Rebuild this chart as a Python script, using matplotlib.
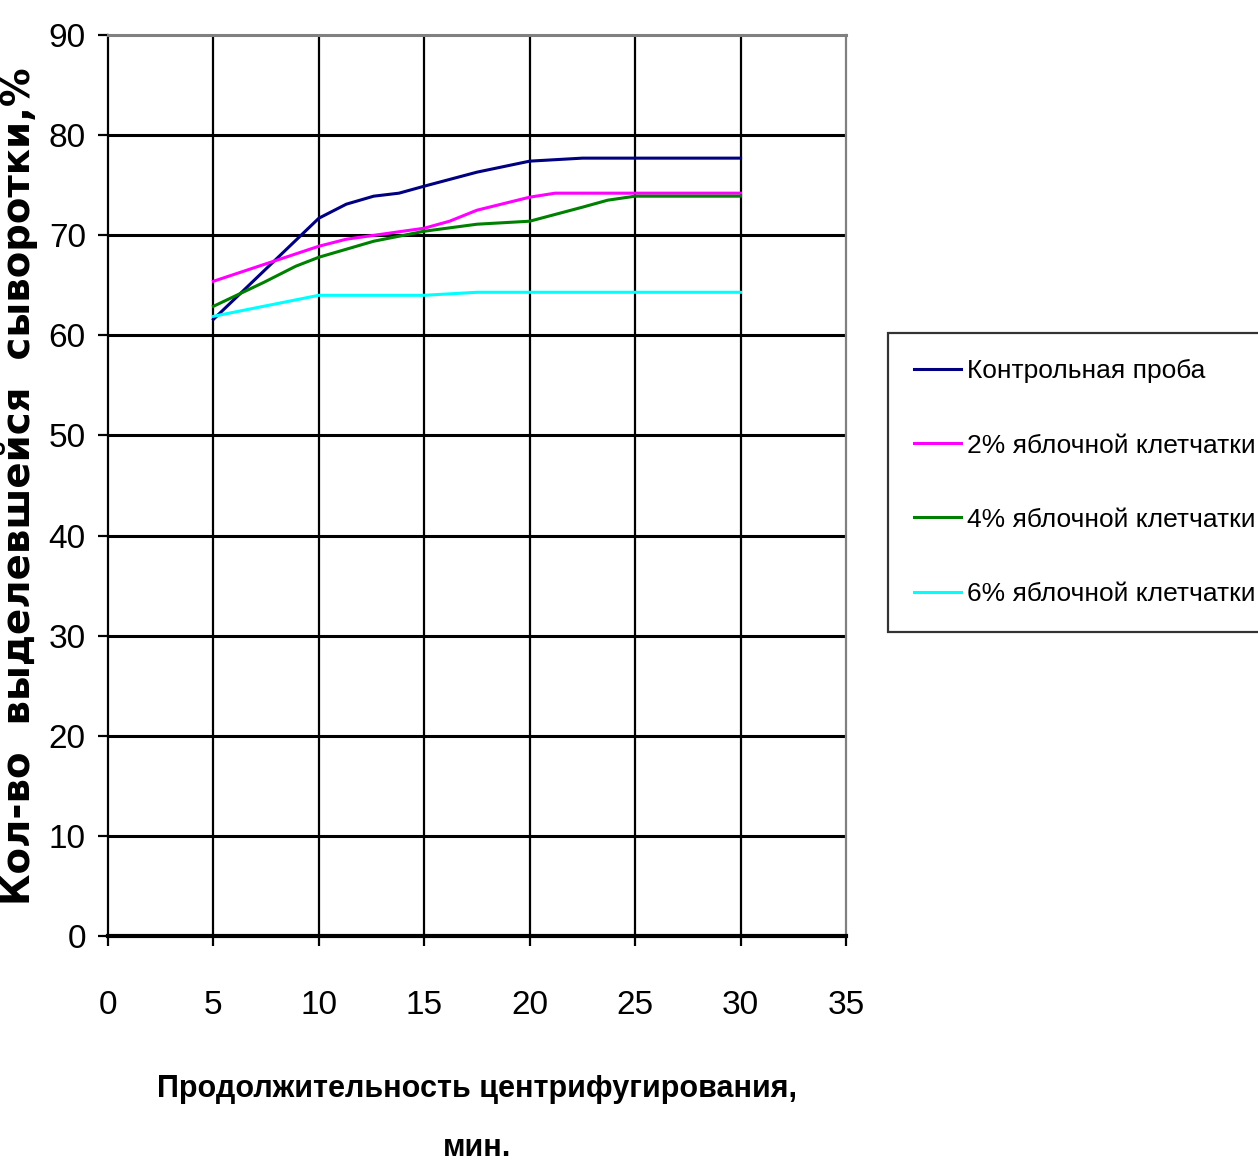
import matplotlib
matplotlib.use("Agg")
import matplotlib.pyplot as plt

# data (smoothed excel curves, vertices taken)
x_ctrl = [5, 10, 11.3, 12.6, 13.8, 15, 17.5, 20, 22.5, 25, 30]
y_ctrl = [61.6, 71.7, 73.1, 73.9, 74.2, 74.9, 76.3, 77.4, 77.7, 77.7, 77.7]

x_2 = [5, 10, 11.3, 15, 16.2, 17.5, 20, 21.2, 25, 30]
y_2 = [65.4, 68.9, 69.6, 70.7, 71.4, 72.5, 73.8, 74.2, 74.2, 74.2]

x_4 = [5, 7.4, 8.9, 10, 12.6, 15, 17.5, 20, 22.5, 23.7, 25, 30]
y_4 = [62.9, 65.3, 66.9, 67.8, 69.4, 70.4, 71.1, 71.4, 72.8, 73.5, 73.9, 73.9]

x_6 = [5, 10, 15, 17.5, 20, 25, 30]
y_6 = [61.9, 64.0, 64.0, 64.3, 64.3, 64.3, 64.3]

labels = ["Контрольная проба", "2% яблочной клетчатки",
          "4% яблочной клетчатки", "6% яблочной клетчатки"]
colors = ["#000080", "#FF00FF", "#008000", "#00FFFF"]

xticks = [0, 5, 10, 15, 20, 25, 30, 35]
yticks = [0, 10, 20, 30, 40, 50, 60, 70, 80, 90]

narrow = ["Liberation Sans", "DejaVu Sans"]

W, H = 1258, 1163
fig = plt.figure(figsize=(W / 100, H / 100), dpi=100)
ax = fig.add_axes([108 / W, 1 - 936 / H, (846 - 108) / W, (936 - 35) / H])

# grid lines like excel
for xv in xticks[1:-1]:
    ax.axvline(xv, color="black", lw=1.6, zorder=1)
for yv in yticks[1:-1]:
    ax.axhline(yv, color="black", lw=2.2, zorder=1)

series = [(x_ctrl, y_ctrl), (x_2, y_2), (x_4, y_4), (x_6, y_6)]
for (xs, ys), lab, c in zip(series, labels, colors):
    ax.plot(xs, ys, color=c, lw=2.2, label=lab, zorder=3,
            solid_joinstyle="round")

ax.set_xlim(0, 35)
ax.set_ylim(0, 90)
ax.set_xticks(xticks)
ax.set_yticks(yticks)

ax.spines["left"].set_color("black")
ax.spines["left"].set_linewidth(1.6)
ax.spines["bottom"].set_color("black")
ax.spines["bottom"].set_linewidth(3)
ax.spines["top"].set_color("#808080")
ax.spines["top"].set_linewidth(2.2)
ax.spines["right"].set_color("#808080")
ax.spines["right"].set_linewidth(1.6)

ax.tick_params(axis="both", direction="out", length=7, width=1.6,
               colors="black", labelsize=24)
ax.tick_params(axis="x", pad=32)
ax.tick_params(axis="y", pad=9)
for t in ax.get_xticklabels() + ax.get_yticklabels():
    t.set_family(narrow)

ax.set_ylabel("Кол-во  выделевшейся  сыворотки,%", fontsize=27.8,
              fontweight="bold", family=["DejaVu Sans"])
ax.yaxis.set_label_coords(-0.095, 0.4994)
ax.set_xlabel("Продолжительность центрифугирования,\nмин.", fontsize=22,
              fontweight="bold", family=narrow, linespacing=2.25)
ax.xaxis.set_label_coords(0.5, -0.153)

leg = fig.legend(loc="upper left", bbox_to_anchor=(888 / W, 1 - 333 / H),
                 prop={"family": narrow, "size": 19},
                 frameon=True, fancybox=False, handlelength=1.75,
                 handletextpad=0.25, labelspacing=1.9, borderpad=1.0,
                 borderaxespad=0)
leg.get_frame().set_edgecolor("black")
leg.get_frame().set_linewidth(1.6)
for ln in leg.get_lines():
    ln.set_linewidth(2.2)

fig.savefig("out.png", dpi=100, facecolor="white")
